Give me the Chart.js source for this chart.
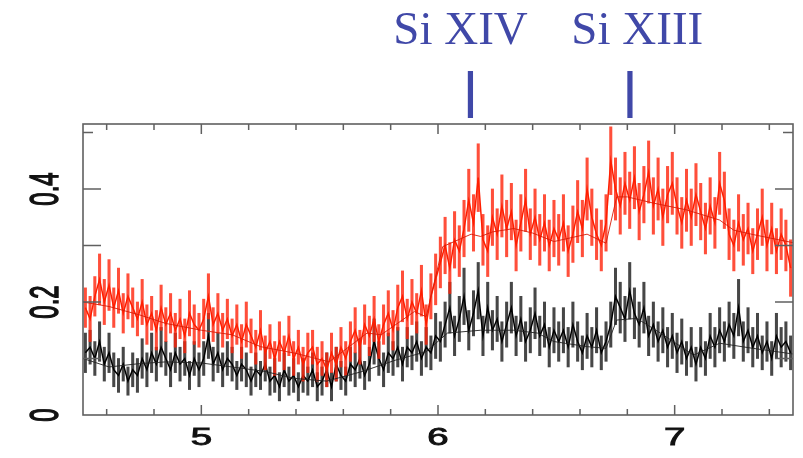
<!DOCTYPE html>
<html>
<head>
<meta charset="utf-8">
<script src="https://cdn.jsdelivr.net/npm/chart.js@4"></script>
<style>
html,body{margin:0;padding:0;background:#fff;}
canvas{display:block;}
</style>
</head>
<body>
<canvas id="c" width="803" height="458"></canvas>
<script>
// ---- data ----
const binStart = 4.51;
const binStep = 0.02;

const redValues = [
0.19,0.17,0.21,0.24,0.20,0.23,0.19,0.22,0.18,0.21,
0.19,0.17,0.20,0.16,0.18,0.15,0.19,0.16,0.18,0.15,
0.17,0.14,0.18,0.16,0.15,
0.17,0.21,0.16,0.18,0.15,0.17,0.14,0.16,0.13,0.16,
0.14,0.12,0.15,0.11,0.13,0.10,0.13,0.11,0.14,0.10,
0.12,0.09,0.11,0.12,0.09,
0.10,0.08,0.11,0.09,0.12,0.10,0.13,0.15,0.12,0.16,
0.14,0.17,0.13,0.16,0.18,0.15,0.19,0.21,0.17,0.20,
0.18,0.22,0.16,0.21,0.24,
0.27,0.30,0.26,0.31,0.29,0.33,0.38,0.34,0.42,0.31,
0.29,0.35,0.32,0.37,0.33,0.36,0.30,0.34,0.38,0.32,
0.35,0.31,0.34,0.30,0.33,
0.31,0.34,0.29,0.32,0.36,0.33,0.40,0.35,0.32,0.30,
0.34,0.45,0.40,0.37,0.41,0.38,0.42,0.36,0.39,0.43,
0.37,0.40,0.35,0.39,0.41,
0.37,0.34,0.38,0.35,0.39,0.36,0.33,0.37,0.34,0.41,
0.38,0.32,0.30,0.34,0.31,0.33,0.29,0.32,0.35,0.30,
0.33,0.29,0.32,0.30,0.26
];
const redErrors = [
0.035,0.04,0.035,0.045,0.04,0.045,0.035,0.04,0.035,0.04,
0.035,0.03,0.04,0.035,0.03,0.035,0.04,0.03,0.035,0.03,
0.035,0.03,0.04,0.035,0.03,
0.035,0.04,0.03,0.035,0.03,0.035,0.03,0.035,0.03,0.04,
0.03,0.03,0.035,0.03,0.03,0.03,0.035,0.03,0.035,0.03,
0.03,0.03,0.035,0.03,0.03,
0.03,0.03,0.035,0.03,0.035,0.03,0.035,0.04,0.03,0.035,
0.035,0.04,0.03,0.035,0.04,0.035,0.04,0.045,0.035,0.04,
0.035,0.045,0.035,0.04,0.045,
0.045,0.05,0.045,0.05,0.045,0.05,0.055,0.05,0.06,0.045,
0.045,0.05,0.045,0.055,0.05,0.05,0.045,0.05,0.055,0.045,
0.05,0.045,0.05,0.045,0.05,
0.045,0.05,0.045,0.05,0.055,0.05,0.055,0.05,0.045,0.045,
0.05,0.06,0.055,0.05,0.055,0.05,0.055,0.05,0.05,0.055,
0.05,0.055,0.05,0.05,0.055,
0.05,0.045,0.055,0.05,0.055,0.05,0.045,0.05,0.045,0.055,
0.05,0.045,0.045,0.05,0.045,0.045,0.04,0.045,0.05,0.045,
0.045,0.04,0.045,0.045,0.05
];

const blackValues = [
0.11,0.12,0.10,0.13,0.09,0.11,0.08,0.07,0.09,0.06,
0.08,0.07,0.10,0.08,0.11,0.09,0.12,0.10,0.08,0.11,
0.09,0.10,0.07,0.10,0.08,
0.10,0.14,0.09,0.11,0.08,0.10,0.09,0.07,0.09,0.08,
0.06,0.08,0.07,0.09,0.06,0.07,0.05,0.08,0.06,0.07,
0.05,0.07,0.06,0.08,0.05,
0.06,0.08,0.05,0.09,0.07,0.06,0.09,0.08,0.10,0.07,
0.09,0.13,0.10,0.08,0.11,0.10,0.12,0.09,0.12,0.11,
0.13,0.10,0.12,0.11,0.14,
0.13,0.16,0.19,0.14,0.17,0.21,0.15,0.18,0.22,0.14,
0.19,0.15,0.17,0.13,0.16,0.19,0.14,0.17,0.13,0.15,
0.18,0.14,0.16,0.12,0.15,
0.13,0.15,0.12,0.16,0.13,0.11,0.14,0.12,0.15,0.11,
0.13,0.16,0.21,0.19,0.17,0.22,0.18,0.16,0.19,0.14,
0.16,0.13,0.15,0.12,0.14,
0.11,0.13,0.10,0.12,0.09,0.12,0.10,0.14,0.12,0.15,
0.13,0.16,0.14,0.19,0.13,0.15,0.12,0.14,0.11,0.13,
0.10,0.14,0.12,0.13,0.11
];
const blackErrors = [
0.035,0.03,0.03,0.035,0.03,0.035,0.03,0.03,0.03,0.025,
0.03,0.03,0.035,0.03,0.035,0.03,0.035,0.03,0.03,0.035,
0.03,0.03,0.025,0.03,0.03,
0.03,0.04,0.03,0.035,0.03,0.03,0.03,0.025,0.03,0.03,
0.025,0.03,0.025,0.03,0.025,0.03,0.025,0.03,0.025,0.03,
0.025,0.03,0.025,0.03,0.025,
0.025,0.03,0.025,0.03,0.025,0.025,0.03,0.03,0.035,0.025,
0.03,0.04,0.03,0.03,0.035,0.03,0.035,0.03,0.035,0.03,
0.035,0.03,0.035,0.03,0.04,
0.035,0.04,0.045,0.035,0.04,0.05,0.035,0.04,0.05,0.035,
0.045,0.035,0.04,0.035,0.04,0.045,0.035,0.04,0.035,0.04,
0.045,0.035,0.04,0.035,0.04,
0.035,0.04,0.035,0.04,0.035,0.03,0.04,0.035,0.04,0.03,
0.035,0.04,0.05,0.045,0.04,0.05,0.045,0.04,0.045,0.035,
0.04,0.035,0.04,0.035,0.04,
0.035,0.04,0.03,0.035,0.03,0.035,0.03,0.04,0.035,0.04,
0.035,0.04,0.04,0.05,0.035,0.04,0.035,0.04,0.03,0.035,
0.03,0.04,0.035,0.035,0.03
];

const redModelX = [4.5,4.61,4.74,4.85,5.0,5.13,5.25,5.4,5.54,5.7,5.76,5.9,5.95,6.02,6.14,6.18,6.23,6.32,6.4,6.49,6.63,6.71,6.755,6.8,6.91,7.05,7.19,7.25,7.335,7.5];
const redModelY = [0.2,0.192,0.177,0.162,0.15,0.142,0.121,0.109,0.094,0.145,0.142,0.183,0.174,0.298,0.32,0.316,0.324,0.33,0.322,0.307,0.32,0.304,0.386,0.386,0.375,0.363,0.345,0.327,0.319,0.305];
const blackModelX = [4.5,4.61,4.74,4.85,5.0,5.13,5.27,5.39,5.47,5.53,5.68,5.82,5.95,6.04,6.18,6.32,6.42,6.49,6.63,6.71,6.755,6.84,6.94,7.08,7.19,7.33,7.5];
const blackModelY = [0.1,0.085,0.091,0.094,0.092,0.085,0.077,0.065,0.062,0.06,0.077,0.097,0.112,0.145,0.15,0.15,0.145,0.13,0.121,0.118,0.168,0.171,0.145,0.106,0.127,0.118,0.108];

const xTickValues = [4.6,4.8,5.0,5.2,5.4,5.6,5.8,6.0,6.2,6.4,6.6,6.8,7.0,7.2,7.4];
const xTickLabels = {"5":"5","6":"6","7":"7"};
const yTickValues = [0.1,0.2,0.3,0.4,0.5];
const yTickLabels = ["0","0.2","0.4"];
const yLabelValues = [0,0.2,0.4];

const lineNames = ["Si XIV","Si XIII"];
const lineMarkX = [6.137,6.811];
const lineLabelX = [6.095,6.842];

// ---- build datasets ----
const binX = redValues.map((_, i) => +(binStart + i * binStep).toFixed(3));
const pts = (vals) => vals.map((v, i) => ({x: binX[i], y: v}));
const bars = (vals, errs) => vals.map((v, i) => ({x: binX[i], y: [v - errs[i], v + errs[i]]}));
const model = (xs, ys) => xs.map((x, i) => ({x: x, y: ys[i]}));

const overlay = {
  id: 'overlay',
  afterDraw(chart) {
    const ctx = chart.ctx;
    const xs = chart.scales.x, ys = chart.scales.y;
    const a = chart.chartArea;
    ctx.save();
    // frame
    ctx.strokeStyle = '#606060';
    ctx.lineWidth = 1.6;
    ctx.strokeRect(a.left, a.top, a.right - a.left, a.bottom - a.top);
    // x ticks (inward, top & bottom)
    ctx.lineWidth = 1.5;
    xTickValues.forEach(v => {
      const px = xs.getPixelForValue(v);
      const major = Math.abs(v - Math.round(v)) < 1e-6;
      const len = major ? 10 : 6;
      ctx.beginPath();
      ctx.moveTo(px, a.bottom); ctx.lineTo(px, a.bottom - len);
      ctx.moveTo(px, a.top); ctx.lineTo(px, a.top + len);
      ctx.stroke();
    });
    // y ticks (inward, left & right)
    yTickValues.forEach(v => {
      const py = ys.getPixelForValue(v);
      const len = v > 0.45 ? 10 : 18;
      ctx.beginPath();
      ctx.moveTo(a.left, py); ctx.lineTo(a.left + len, py);
      ctx.moveTo(a.right, py); ctx.lineTo(a.right - len, py);
      ctx.stroke();
    });
    // x labels (stretched horizontally like the original)
    ctx.fillStyle = '#111';
    ctx.strokeStyle = '#111';
    ctx.lineWidth = 0.9;
    ctx.font = '24px "Liberation Sans", Arial, sans-serif';
    ctx.textAlign = 'center';
    ctx.textBaseline = 'alphabetic';
    Object.keys(xTickLabels).forEach(k => {
      const px = xs.getPixelForValue(parseFloat(k));
      ctx.save();
      ctx.translate(px, 445);
      ctx.scale(1.6, 1);
      ctx.fillText(xTickLabels[k], 0, 0);
      ctx.strokeText(xTickLabels[k], 0, 0);
      ctx.restore();
    });
    // y labels, rotated
    yLabelValues.forEach((v, i) => {
      const py = ys.getPixelForValue(v);
      ctx.save();
      ctx.translate(43, py);
      ctx.scale(1.7, 1);
      ctx.rotate(-Math.PI / 2);
      ctx.fillText(yTickLabels[i], 0, 8.6);
      ctx.strokeText(yTickLabels[i], 0, 8.6);
      ctx.restore();
    });
    // line markers and names
    ctx.fillStyle = '#4048a8';
    lineMarkX.forEach(v => {
      const px = xs.getPixelForValue(v);
      ctx.fillRect(px - 2.6, 71, 5.2, 47);
    });
    ctx.font = '47px "Liberation Serif", "Times New Roman", serif';
    lineNames.forEach((n, i) => {
      ctx.fillText(n, xs.getPixelForValue(lineLabelX[i]), 44);
    });
    ctx.restore();
  }
};

new Chart(document.getElementById('c'), {
  type: 'bar',
  data: {
    datasets: [
      {type: 'bar', data: bars(blackValues, blackErrors), backgroundColor: 'rgba(0,0,0,0.72)', barThickness: 2.4, grouped: false, order: 6},
      {type: 'line', data: pts(blackValues), borderColor: 'rgb(0,0,0)', borderWidth: 1.5, pointRadius: 0, tension: 0, order: 5},
      {type: 'bar', data: bars(redValues, redErrors), backgroundColor: 'rgba(255,35,10,0.8)', barThickness: 2.4, grouped: false, order: 4},
      {type: 'line', data: pts(redValues), borderColor: 'rgb(255,30,0)', borderWidth: 1.5, pointRadius: 0, tension: 0, order: 3},
      {type: 'line', data: model(blackModelX, blackModelY), borderColor: '#222', borderWidth: 0.9, pointRadius: 0, tension: 0, order: 1},
      {type: 'line', data: model(redModelX, redModelY), borderColor: '#d81c08', borderWidth: 0.9, pointRadius: 0, tension: 0, order: 0}
    ]
  },
  options: {
    responsive: false,
    animation: false,
    devicePixelRatio: 1,
    layout: {padding: {left: 83, top: 124, right: 10, bottom: 43}},
    plugins: {legend: {display: false}, tooltip: {enabled: false}},
    scales: {
      x: {type: 'linear', min: 4.5, max: 7.5, display: false, offset: false},
      y: {type: 'linear', min: 0, max: 0.515, display: false}
    }
  },
  plugins: [overlay]
});
</script>
</body>
</html>
